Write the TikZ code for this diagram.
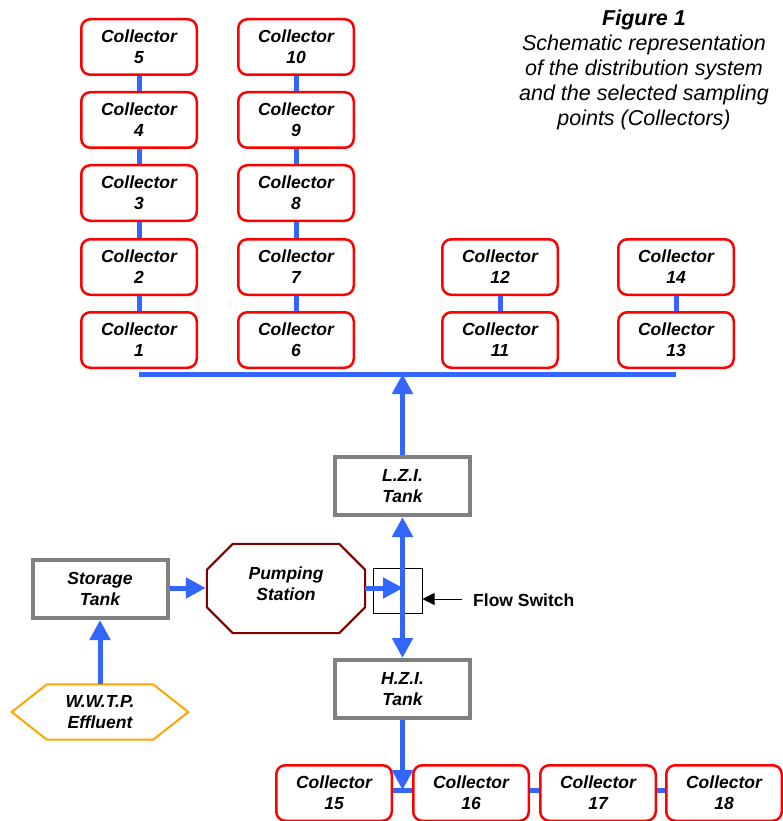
\documentclass[tikz,border=0pt]{standalone}
\usepackage{fontspec}
\setmainfont{Liberation Sans}
\usetikzlibrary{arrows.meta}
\definecolor{pipeblue}{RGB}{51,102,255}
\definecolor{tankgray}{RGB}{128,128,128}
\definecolor{pumpred}{RGB}{128,0,0}
\definecolor{wwtporange}{RGB}{255,165,0}
\tikzset{
  lbl/.style={font=\bfseries\itshape\fontsize{17.5}{21}\selectfont, align=center},
  collector/.style={lbl, draw=red, line width=2.5pt, rounded corners=9pt, fill=white,
    minimum width=115.5pt, minimum height=55.5pt, inner sep=0pt},
  tank/.style={lbl, draw=tankgray, line width=4pt, fill=white,
    minimum width=135pt, minimum height=58pt, inner sep=0pt},
  pipe/.style={draw=pipeblue, line width=5pt},
  flow/.style={pipe, -{Triangle[width=20pt,length=20pt]}},
  biflow/.style={pipe, {Triangle[width=20pt,length=20pt]}-{Triangle[width=20pt,length=20pt]}},
}
\begin{document}
\begin{tikzpicture}[x=1pt,y=-1pt]
\useasboundingbox (0,0) rectangle (782,821);

% caption
\node (cap) [anchor=north, align=center, font=\itshape\fontsize{21.5}{25}\selectfont, inner sep=0pt]
  at (644,10) {\textbf{Figure 1}\\Schematic representation\\of the distribution system\\and the selected sampling\\points (Collectors)};

% collectors column 1
\node[collector] (c5) at (139,47) {Collector\\5};
\node[collector] (c4) at (139,120) {Collector\\4};
\node[collector] (c3) at (139,193) {Collector\\3};
\node[collector] (c2) at (139,267) {Collector\\2};
\node[collector] (c1) at (139,340) {Collector\\1};
% column 2
\node[collector] (c10) at (296,47) {Collector\\10};
\node[collector] (c9) at (296,120) {Collector\\9};
\node[collector] (c8) at (296,193) {Collector\\8};
\node[collector] (c7) at (296,267) {Collector\\7};
\node[collector] (c6) at (296,340) {Collector\\6};
% others
\node[collector] (c12) at (500,267) {Collector\\12};
\node[collector] (c11) at (500,340) {Collector\\11};
\node[collector] (c14) at (676,267) {Collector\\14};
\node[collector] (c13) at (676,340) {Collector\\13};
% bottom row
\node[collector] (c15) at (334,793) {Collector\\15};
\node[collector] (c16) at (471,793) {Collector\\16};
\node[collector] (c17) at (598,793) {Collector\\17};
\node[collector] (c18) at (724,793) {Collector\\18};

% vertical links
\foreach \a/\b in {c1/c2,c2/c3,c3/c4,c4/c5,c6/c7,c7/c8,c8/c9,c9/c10,c11/c12,c13/c14}
  \draw[pipe] (\a.north) -- (\b.south);

% bus
\coordinate (busL) at (139,374);
\coordinate (busR) at (676,374);
\draw[pipe] (busL) -- (busR);

% tanks
\node[tank] (lzi) at (402.5,486) {L.Z.I.\\Tank};
\node[tank] (hzi) at (402.5,689) {H.Z.I.\\Tank};
\node[tank] (storage) at (100,589) {Storage\\Tank};

% pumping station (octagon)
\node[lbl, minimum width=158pt, minimum height=89pt, inner sep=0pt] (pump) at (286,588.5) {Pumping\\Station\\[-12pt]};
\draw[draw=pumpred, line width=2pt]
  ([xshift=26pt]pump.north west) -- ([xshift=-26pt]pump.north east)
  -- ([yshift=-26pt]pump.north east) -- ([yshift=26pt]pump.south east)
  -- ([xshift=-26pt]pump.south east) -- ([xshift=26pt]pump.south west)
  -- ([yshift=26pt]pump.south west) -- ([yshift=-26pt]pump.north west) -- cycle;

% W.W.T.P. effluent (hexagon)
\node[lbl, minimum width=176pt, minimum height=55pt, inner sep=0pt] (wwtp) at (100,712) {W.W.T.P.\\Effluent};
\draw[draw=wwtporange, line width=2pt]
  (wwtp.west) -- ([xshift=35pt]wwtp.north west) -- ([xshift=-35pt]wwtp.north east)
  -- (wwtp.east) -- ([xshift=-35pt]wwtp.south east) -- ([xshift=35pt]wwtp.south west) -- cycle;

% flow switch
\node[draw=black, line width=1pt, minimum width=49pt, minimum height=45pt, inner sep=0pt] (fs) at (397.5,590.5) {};
\node[font=\bfseries\fontsize{17.5}{21}\selectfont, anchor=west, inner sep=0pt] (fslabel) at (473,600) {Flow Switch};
\coordinate (fsa) at (462,599);
\draw[line width=1pt, -{Triangle[width=12pt,length=12pt]}] (fsa) -- (fs.east |- fsa);

% flows
\coordinate (fsc) at (403,588);
\draw[flow] (wwtp.north) -- (storage.south);
\draw[flow] (storage.east |- fsc) -- ([xshift=-1pt]pump.west |- fsc);
\draw[flow] (pump.east |- fsc) -- (fsc);
\draw[biflow] (lzi.south) -- (hzi.north);
\draw[flow] (lzi.north) -- (lzi.north |- busL);

\coordinate (botY) at (0,790);
\draw[flow] (hzi.south) -- (hzi.south |- botY);
\draw[pipe] (c15.east |- botY) -- (c16.west |- botY);
\draw[pipe] (c16.east |- botY) -- (c17.west |- botY);
\draw[pipe] (c17.east |- botY) -- (c18.west |- botY);
\end{tikzpicture}
\end{document}
